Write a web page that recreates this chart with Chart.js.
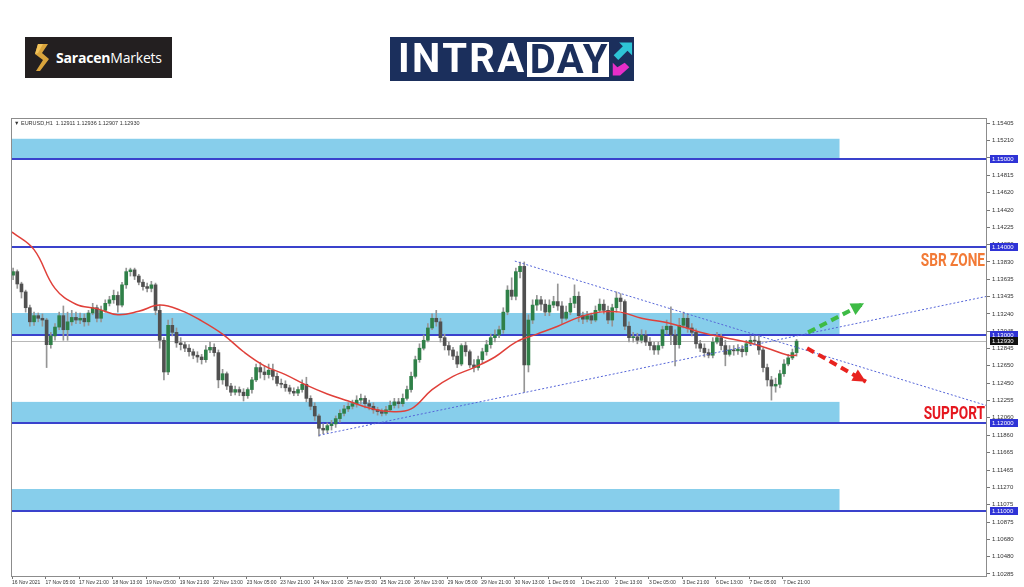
<!DOCTYPE html>
<html lang="en">
<head>
<meta charset="UTF-8">
<title>EURUSD H1 Intraday</title>
<script src="https://cdn.jsdelivr.net/npm/chart.js"></script>
<style>
  body { margin: 0; background: #fff; }
  #wrap { position: relative; width: 1024px; height: 587px; overflow: hidden; }
  #chart { position: absolute; left: 0; top: 0; }
  #saracen {
    position: absolute; left: 25px; top: 37px; width: 147px; height: 41px;
    background: #231f20; display: flex; align-items: center;
  }
  #saracen svg { margin-left: 9px; margin-right: 6px; }
  #saracen span { color: #fff; font-family: 'Open Sans', sans-serif; font-size: 14px; letter-spacing: -0.2px; }
  #saracen b { font-weight: 700; }
  #intraday {
    position: absolute; left: 390px; top: 37px; width: 244px; height: 44px;
    background: #1b2f5c; display: flex; align-items: center;
    font-family: Roboto, sans-serif; font-weight: 700; font-size: 40px; letter-spacing: 2.4px;
  }
  #intraday .in { color: #fff; margin-left: 8px; line-height: 44px; }
  #intraday .day { color: #1b2f5c; background: #fff; line-height: 35px; height: 35px; padding: 0 0 0 3px; margin-left: 0; letter-spacing: 1.6px; }
</style>
</head>
<body>
<div id="wrap">
  <canvas id="chart" width="1024" height="587"></canvas>
  <div id="saracen">
    <svg width="16" height="27" viewBox="0 0 16 27">
      <polygon points="4,0 14,0 8,9 15,15 6,27 2,27 9,16 1,10" fill="#d9a43c"/>
      <polygon points="4,0 9,0 4,9 1,10" fill="#f2c35a"/>
    </svg>
    <span><b>Saracen</b>Markets</span>
  </div>
  <div id="intraday">
    <span class="in">INTRA</span><span class="day">DAY</span>
    <svg width="26" height="40" viewBox="0 0 26 40" style="margin-left:1px">
      <polygon points="10,2 24,2 24,16 19,11 9,21 4,16 14,6" fill="#2ec4d6"/>
      <polygon points="16,24 21,29 11,38 3,38 3,24 8,29" fill="#e62ec8"/>
    </svg>
  </div>
</div>
<script>
// EURUSD H1 chart, drawn as 2-hour candles (x in H1 bar units, 0 = 16 Nov 13:00)
const xTickBars = [0, 16, 32, 48, 64, 80, 96, 112, 128, 144, 160, 176, 192, 208, 224, 240, 256, 272, 288, 304, 320, 336, 352, 368];
const xTickLabels = ['16 Nov 2021', '17 Nov 05:00', '17 Nov 21:00', '18 Nov 13:00', '19 Nov 05:00', '19 Nov 21:00',
  '22 Nov 13:00', '23 Nov 05:00', '23 Nov 21:00', '24 Nov 13:00', '25 Nov 05:00', '25 Nov 21:00',
  '26 Nov 13:00', '29 Nov 05:00', '29 Nov 21:00', '30 Nov 13:00', '1 Dec 05:00', '1 Dec 21:00',
  '2 Dec 13:00', '3 Dec 05:00', '3 Dec 21:00', '6 Dec 13:00', '7 Dec 05:00', '7 Dec 21:00'];
const yTickValues = [1.15405, 1.15210, 1.15015, 1.14815, 1.14620, 1.14420, 1.14225, 1.14030, 1.13830, 1.13635,
  1.13435, 1.13240, 1.13045, 1.12845, 1.12650, 1.12450, 1.12255, 1.12060, 1.11860, 1.11665,
  1.11465, 1.11270, 1.11075, 1.10875, 1.10680, 1.10480, 1.10285];

const opens = [
  1.1368,1.1372,1.1358,1.1349,1.1331,1.1315,1.1322,1.1319,1.1317,1.1289,
  1.1299,1.1309,1.1322,1.1306,1.1315,1.1320,1.1317,1.1319,1.1315,1.1325,
  1.1331,1.1319,1.1328,1.1336,1.1340,1.1345,1.1334,1.1357,1.1372,1.1374,
  1.1367,1.1360,1.1355,1.1353,1.1357,1.1328,1.1294,1.1258,1.1311,1.1303,
  1.1291,1.1289,1.1285,1.1281,1.1277,1.1275,1.1272,1.1283,1.1286,1.1280,
  1.1249,1.1256,1.1242,1.1235,1.1238,1.1235,1.1231,1.1238,1.1249,1.1263,
  1.1258,1.1255,1.1260,1.1253,1.1245,1.1244,1.1240,1.1236,1.1234,1.1238,
  1.1244,1.1228,1.1219,1.1208,1.1194,1.1192,1.1197,1.1199,1.1205,1.1211,
  1.1216,1.1219,1.1222,1.1226,1.1228,1.1222,1.1219,1.1215,1.1213,1.1211,
  1.1215,1.1220,1.1224,1.1222,1.1228,1.1238,1.1253,1.1272,1.1285,1.1294,
  1.1308,1.1319,1.1315,1.1297,1.1288,1.1283,1.1276,1.1267,1.1288,1.1281,
  1.1266,1.1263,1.1272,1.1281,1.1289,1.1297,1.1300,1.1306,1.1326,1.1351,
  1.1344,1.1372,1.1378,1.1266,1.1317,1.1334,1.1340,1.1335,1.1326,1.1334,
  1.1338,1.1333,1.1319,1.1326,1.1336,1.1344,1.1322,1.1318,1.1322,1.1317,
  1.1328,1.1335,1.1328,1.1317,1.1331,1.1342,1.1338,1.1310,1.1297,1.1298,
  1.1294,1.1300,1.1292,1.1288,1.1283,1.1288,1.1306,1.1310,1.1300,1.1289,
  1.1311,1.1319,1.1308,1.1303,1.1290,1.1285,1.1280,1.1277,1.1292,1.1297,
  1.1288,1.1278,1.1283,1.1282,1.1284,1.1281,1.1290,1.1294,1.1293,1.1283,
  1.1263,1.1249,1.1242,1.1244,1.1256,1.1267,1.1274,1.1280];
const highs = [
  1.1376,1.1374,1.1360,1.1351,1.1334,1.1326,1.1325,1.1324,1.1319,1.1303,
  1.1313,1.1326,1.1333,1.1326,1.1328,1.1326,1.1325,1.1324,1.1328,1.1336,
  1.1334,1.1333,1.1340,1.1344,1.1351,1.1349,1.1360,1.1376,1.1376,1.1376,
  1.1369,1.1363,1.1359,1.1361,1.1359,1.1334,1.1297,1.1317,1.1319,1.1308,
  1.1297,1.1292,1.1289,1.1284,1.1281,1.1278,1.1288,1.1292,1.1290,1.1283,
  1.1261,1.1258,1.1245,1.1242,1.1241,1.1239,1.1240,1.1252,1.1267,1.1269,
  1.1265,1.1267,1.1267,1.1257,1.1250,1.1248,1.1243,1.1240,1.1241,1.1249,
  1.1252,1.1231,1.1223,1.1210,1.1199,1.1200,1.1203,1.1208,1.1215,1.1220,
  1.1223,1.1226,1.1231,1.1233,1.1231,1.1226,1.1223,1.1218,1.1216,1.1219,
  1.1225,1.1228,1.1228,1.1233,1.1242,1.1258,1.1276,1.1290,1.1300,1.1313,
  1.1324,1.1328,1.1319,1.1301,1.1292,1.1286,1.1281,1.1290,1.1292,1.1283,
  1.1272,1.1276,1.1285,1.1294,1.1301,1.1306,1.1310,1.1331,1.1356,1.1365,
  1.1376,1.1383,1.1383,1.1323,1.1340,1.1345,1.1344,1.1340,1.1340,1.1344,
  1.1358,1.1338,1.1333,1.1342,1.1357,1.1349,1.1326,1.1327,1.1325,1.1333,
  1.1341,1.1340,1.1333,1.1335,1.1349,1.1347,1.1340,1.1315,1.1303,1.1302,
  1.1306,1.1305,1.1297,1.1292,1.1292,1.1310,1.1317,1.1332,1.1306,1.1319,
  1.1326,1.1324,1.1313,1.1307,1.1294,1.1290,1.1284,1.1297,1.1303,1.1301,
  1.1294,1.1288,1.1288,1.1289,1.1288,1.1294,1.1299,1.1299,1.1299,1.1285,
  1.1267,1.1253,1.1251,1.1260,1.1272,1.1278,1.1284,1.1295];
const lows = [
  1.1363,1.1353,1.1342,1.1326,1.1310,1.1311,1.1315,1.1310,1.1263,1.1285,
  1.1294,1.1306,1.1294,1.1294,1.1311,1.1313,1.1313,1.1310,1.1311,1.1323,
  1.1315,1.1315,1.1326,1.1333,1.1336,1.1326,1.1332,1.1353,1.1367,1.1363,
  1.1357,1.1351,1.1349,1.1349,1.1323,1.1285,1.1249,1.1255,1.1299,1.1286,
  1.1283,1.1281,1.1276,1.1273,1.1269,1.1267,1.1269,1.1280,1.1276,1.1240,
  1.1244,1.1238,1.1231,1.1232,1.1231,1.1225,1.1228,1.1234,1.1247,1.1251,
  1.1249,1.1251,1.1249,1.1242,1.1240,1.1236,1.1233,1.1231,1.1231,1.1235,
  1.1224,1.1215,1.1203,1.1185,1.1188,1.1189,1.1192,1.1195,1.1201,1.1208,
  1.1213,1.1216,1.1218,1.1222,1.1217,1.1215,1.1211,1.1209,1.1208,1.1209,
  1.1213,1.1217,1.1217,1.1219,1.1226,1.1235,1.1251,1.1269,1.1283,1.1292,
  1.1306,1.1310,1.1292,1.1283,1.1277,1.1272,1.1263,1.1265,1.1276,1.1263,
  1.1258,1.1260,1.1268,1.1277,1.1285,1.1292,1.1297,1.1302,1.1323,1.1340,
  1.1340,1.1365,1.1235,1.1258,1.1313,1.1328,1.1328,1.1322,1.1322,1.1331,
  1.1328,1.1313,1.1317,1.1323,1.1331,1.1315,1.1313,1.1315,1.1313,1.1315,
  1.1326,1.1324,1.1313,1.1310,1.1326,1.1328,1.1306,1.1292,1.1292,1.1290,
  1.1291,1.1288,1.1283,1.1278,1.1278,1.1285,1.1301,1.1289,1.1265,1.1285,
  1.1308,1.1303,1.1299,1.1285,1.1281,1.1275,1.1274,1.1274,1.1290,1.1283,
  1.1265,1.1276,1.1277,1.1278,1.1275,1.1277,1.1288,1.1289,1.1278,1.1258,
  1.1242,1.1226,1.1235,1.1240,1.1253,1.1265,1.1272,1.1276];
const closes = [
  1.1372,1.1358,1.1349,1.1331,1.1315,1.1322,1.1319,1.1317,1.1289,1.1299,
  1.1309,1.1322,1.1306,1.1315,1.1320,1.1317,1.1319,1.1315,1.1325,1.1331,
  1.1319,1.1328,1.1336,1.1340,1.1345,1.1334,1.1357,1.1372,1.1374,1.1367,
  1.1360,1.1355,1.1353,1.1357,1.1328,1.1294,1.1258,1.1311,1.1303,1.1291,
  1.1289,1.1285,1.1281,1.1277,1.1275,1.1272,1.1283,1.1286,1.1280,1.1249,
  1.1256,1.1242,1.1235,1.1238,1.1235,1.1231,1.1238,1.1249,1.1263,1.1258,
  1.1255,1.1260,1.1253,1.1245,1.1244,1.1240,1.1236,1.1234,1.1238,1.1244,
  1.1228,1.1219,1.1208,1.1194,1.1192,1.1197,1.1199,1.1205,1.1211,1.1216,
  1.1219,1.1222,1.1226,1.1228,1.1222,1.1219,1.1215,1.1213,1.1211,1.1215,
  1.1220,1.1224,1.1222,1.1228,1.1238,1.1253,1.1272,1.1285,1.1294,1.1308,
  1.1319,1.1315,1.1297,1.1288,1.1283,1.1276,1.1267,1.1288,1.1281,1.1266,
  1.1263,1.1272,1.1281,1.1289,1.1297,1.1300,1.1306,1.1326,1.1351,1.1344,
  1.1372,1.1378,1.1266,1.1317,1.1334,1.1340,1.1335,1.1326,1.1334,1.1338,
  1.1333,1.1319,1.1326,1.1336,1.1344,1.1322,1.1318,1.1322,1.1317,1.1328,
  1.1335,1.1328,1.1317,1.1331,1.1342,1.1338,1.1310,1.1297,1.1298,1.1294,
  1.1300,1.1292,1.1288,1.1283,1.1288,1.1306,1.1310,1.1300,1.1289,1.1311,
  1.1319,1.1308,1.1303,1.1290,1.1285,1.1280,1.1277,1.1292,1.1297,1.1288,
  1.1278,1.1283,1.1282,1.1284,1.1281,1.1290,1.1294,1.1293,1.1283,1.1263,
  1.1249,1.1242,1.1244,1.1256,1.1267,1.1274,1.1280,1.1293];

// red moving average
const maBars = [-0.5, 0.5, 10.5, 20.5, 30.5, 40.5, 50.5, 60.5, 70.5, 80.5, 90.5, 100.5, 110.5, 120.5, 130.5, 140.5,
  150.5, 160.5, 170.5, 180.5, 190.5, 200.5, 210.5, 220.5, 230.5, 240.5, 250.5, 260.5, 270.5, 280.5, 290.5,
  300.5, 310.5, 320.5, 330.5, 340.5, 350.5, 360.5, 370.5, 374.5];
const maValues = [1.1417, 1.1416, 1.1397, 1.1353, 1.1335, 1.1330, 1.1323, 1.1327, 1.1334, 1.1328, 1.1316, 1.1301,
  1.1281, 1.1265, 1.1255, 1.1243, 1.1233, 1.1225, 1.1217, 1.1213, 1.1216, 1.1238, 1.1253, 1.1263, 1.1275,
  1.1292, 1.1301, 1.1310, 1.1320, 1.1326, 1.1326, 1.1319, 1.1315, 1.1309, 1.1302, 1.1297, 1.1292, 1.1285,
  1.1277, 1.1277];

// horizontal levels and zones
const levels = [1.15, 1.14, 1.13, 1.12, 1.11];
const zoneLow = [1.15, 1.13, 1.12, 1.11];
const zoneHigh = [1.1523, 1.1325, 1.1224, 1.1125];
const zoneEndBar = 395;
const lastPrice = 1.1293;
const headerText = 'EURUSD,H1  1.12911 1.12936 1.12907 1.12930';

// trend lines and arrows: [bar, price] pairs
const trendDown = [[240, 1.1384], [465, 1.1220]];
const trendUp = [[146.5, 1.1186], [465.4, 1.1344]];
const arrowUp = [[380, 1.1303], [406.7, 1.1336]];
const arrowDown = [[379.5, 1.1285], [407.6, 1.1247]];
const zoneLabels = [{text: 'SBR ZONE', price: 1.1384, color: '#f27a36'}, {text: 'SUPPORT', price: 1.1210, color: '#e5171f'}];

const candleBars = opens.map((o, i) => 2 * i + 0.5);
const toXY = pts => pts.map(p => ({x: p[0], y: p[1]}));

const tiny = "'Liberation Sans', Arial, sans-serif";

function arrowHead(ctx, x1, y1, x2, y2, color) {
  const ang = Math.atan2(y2 - y1, x2 - x1);
  const len = 13, half = 6.5;
  const bx = x2 - len * Math.cos(ang), by = y2 - len * Math.sin(ang);
  ctx.fillStyle = color;
  ctx.beginPath();
  ctx.moveTo(x2, y2);
  ctx.lineTo(bx + half * Math.sin(ang), by - half * Math.cos(ang));
  ctx.lineTo(bx - half * Math.sin(ang), by + half * Math.cos(ang));
  ctx.closePath();
  ctx.fill();
}

const drawings = {
  id: 'drawings',
  beforeDatasetsDraw(chart) {
    const {ctx, chartArea: a, scales: {x, y}} = chart;
    ctx.save();
    ctx.beginPath();
    ctx.rect(a.left, a.top, a.width, a.height);
    ctx.clip();
    ctx.fillStyle = '#87ceeb';
    zoneLow.forEach((lo, i) => {
      const t = y.getPixelForValue(zoneHigh[i]), b = y.getPixelForValue(lo);
      ctx.fillRect(a.left, t, x.getPixelForValue(zoneEndBar) - a.left, b - t);
    });
    ctx.strokeStyle = '#b8b8b8';
    ctx.lineWidth = 1;
    let py = Math.round(y.getPixelForValue(lastPrice)) + 0.5;
    ctx.beginPath(); ctx.moveTo(a.left, py); ctx.lineTo(a.right, py); ctx.stroke();
    ctx.strokeStyle = '#3a42cc';
    ctx.lineWidth = 2;
    levels.forEach(v => {
      const p = Math.round(y.getPixelForValue(v));
      ctx.beginPath(); ctx.moveTo(a.left, p); ctx.lineTo(a.right, p); ctx.stroke();
    });
    ctx.restore();
  },
  afterDatasetsDraw(chart) {
    const {ctx, chartArea: a, scales: {x, y}} = chart;
    ctx.save();
    [[arrowUp, '#3dbb45'], [arrowDown, '#e8231f']].forEach(([pts, col]) => {
      arrowHead(ctx, x.getPixelForValue(pts[0][0]), y.getPixelForValue(pts[0][1]),
        x.getPixelForValue(pts[1][0]), y.getPixelForValue(pts[1][1]), col);
    });
    // condensed bold labels
    ctx.font = "bold 19px Roboto, sans-serif";
    ctx.textAlign = 'right';
    ctx.textBaseline = 'middle';
    zoneLabels.forEach(l => {
      ctx.save();
      ctx.translate(a.right - 2, y.getPixelForValue(l.price));
      ctx.scale(0.72, 1);
      ctx.fillStyle = l.color;
      ctx.fillText(l.text, 0, 0);
      ctx.restore();
    });
    ctx.font = '5.5px ' + tiny;
    ctx.textAlign = 'left';
    ctx.fillStyle = '#333';
    ctx.fillText('\u25BC ' + headerText, a.left + 3, a.top + 5);
    ctx.restore();
  },
  afterDraw(chart) {
    const {ctx, chartArea: a, scales: {y}} = chart;
    ctx.save();
    ctx.strokeStyle = '#8c8c8c';
    ctx.lineWidth = 1;
    ctx.strokeRect(a.left + 0.5, a.top + 0.5, a.width - 1, a.height - 1);
    ctx.font = "6px 'Liberation Sans', sans-serif";
    ctx.textBaseline = 'middle';
    ctx.textAlign = 'left';
    const box = (v, fill) => {
      const p = Math.round(y.getPixelForValue(v));
      ctx.fillStyle = fill;
      ctx.fillRect(a.right + 3, p - 4, 28, 8);
      ctx.fillStyle = '#fff';
      ctx.fillText(v.toFixed(5), a.right + 5, p);
    };
    levels.forEach(v => box(v, '#2f33d6'));
    box(lastPrice, '#111');
    ctx.restore();
  }
};

new Chart(document.getElementById('chart'), {
  type: 'bar',
  data: {
    datasets: [
      {
        type: 'line', data: toXY(trendDown), borderColor: '#5565d8', borderWidth: 1,
        borderDash: [2, 2], pointRadius: 0, order: 1
      },
      {
        type: 'line', data: toXY(trendUp), borderColor: '#5565d8', borderWidth: 1,
        borderDash: [2, 2], pointRadius: 0, order: 1
      },
      {
        type: 'line', data: toXY(arrowUp), borderColor: '#3dbb45', borderWidth: 4,
        borderDash: [8, 5], pointRadius: 0, order: 0
      },
      {
        type: 'line', data: toXY(arrowDown), borderColor: '#e8231f', borderWidth: 4,
        borderDash: [8, 5], pointRadius: 0, order: 0
      },
      {
        type: 'line', data: maBars.map((b, i) => ({x: b, y: maValues[i]})), borderColor: '#e0403a',
        borderWidth: 1.5, pointRadius: 0, tension: 0.4, order: 1
      },
      {
        type: 'bar', data: candleBars.map((b, i) => ({x: b, y: [opens[i], closes[i]]})),
        backgroundColor: closes.map((c, i) => c >= opens[i] ? '#2f8048' : '#505050'),
        barThickness: 3, minBarLength: 1, grouped: false, order: 2
      },
      {
        type: 'bar', data: candleBars.map((b, i) => ({x: b, y: [lows[i], highs[i]]})),
        backgroundColor: '#959595', barThickness: 1, grouped: false, order: 3
      }
    ]
  },
  options: {
    responsive: false,
    animation: false,
    devicePixelRatio: 1,
    layout: {padding: {left: 11, top: 118, right: 0, bottom: 0}},
    plugins: {legend: {display: false}, tooltip: {enabled: false}},
    scales: {
      x: {
        type: 'linear', position: 'bottom', min: -0.5, max: 465.4, offset: false,
        afterBuildTicks: s => { s.ticks = xTickBars.map(v => ({value: v})); },
        afterFit: s => { s.height = 10; },
        ticks: {
          autoSkip: false, maxRotation: 0, align: 'start', padding: 1, color: '#333',
          font: {size: 5, family: tiny},
          callback: (v, i) => xTickLabels[i]
        },
        grid: {drawOnChartArea: false, drawTicks: true, tickLength: 2, color: '#777', offset: false},
        border: {display: false}
      },
      y: {
        type: 'linear', position: 'right', min: 1.1025, max: 1.15466, beginAtZero: false,
        afterBuildTicks: s => { s.ticks = yTickValues.map(v => ({value: v})); },
        afterFit: s => { s.width = 37; },
        ticks: {
          autoSkip: false, padding: 2, color: '#333',
          font: {size: 6, family: tiny},
          callback: v => v.toFixed(5)
        },
        grid: {drawOnChartArea: false, drawTicks: true, tickLength: 3, color: '#777'},
        border: {display: false}
      }
    }
  },
  plugins: [drawings]
});
</script>
</body>
</html>
